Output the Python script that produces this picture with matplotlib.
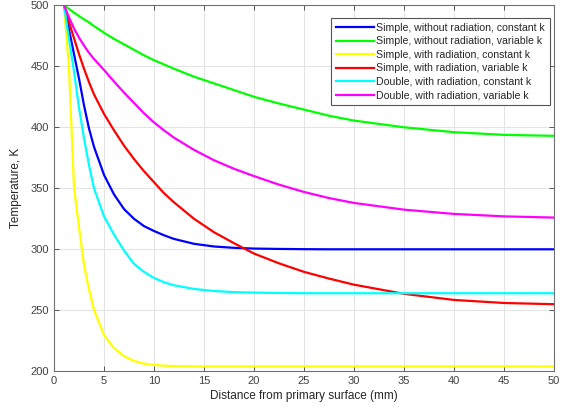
import numpy as np
import matplotlib.pyplot as plt

plt.rcParams['font.family'] = ['Liberation Sans', 'DejaVu Sans']
plt.rcParams['font.size'] = 8

# distance from primary surface (mm)
x = [1, 1.5, 2, 2.5, 3, 3.5, 4, 5, 6, 7, 8, 9, 10, 11, 12, 14, 16, 18, 20,
     22.5, 25, 27.5, 30, 35, 40, 45, 50]

# temperature profiles (K)
T_simple_norad_const = [500, 480, 460, 440, 418, 399, 384, 361, 345, 333, 325, 319, 315, 311.5,
                        308.5, 304.5, 302.3, 301.2, 300.6, 300.3, 300.1, 300, 300, 300, 300, 300, 300]
T_simple_norad_var = [500, 497, 494, 491.2, 488.5, 486, 483, 477.5, 472.5, 468, 463.5, 459, 455, 451.5,
                      448, 441.5, 436, 430.5, 425, 419.5, 414.5, 409.5, 405.5, 400, 396, 393.8, 393]
T_simple_rad_const = [500, 448, 351, 318, 287, 267, 250.5, 229.5, 219, 212.5, 208.5, 206.3, 205.2, 204.6,
                      204.3, 204, 204, 204, 204, 204, 204, 204, 204, 204, 204, 204, 204]
T_simple_rad_var = [500, 486, 473, 460, 448, 437, 427, 411, 397.5, 385, 374, 364, 355, 346,
                    338.5, 325, 314, 305, 296.5, 288.5, 281.5, 276, 271, 263.5, 258.5, 256, 255]
T_double_rad_const = [500, 472, 446, 416, 391, 369, 350, 327, 312, 299, 288, 281.5, 276.5, 273,
                      270.5, 267.5, 265.8, 264.9, 264.5, 264.2, 264, 264, 264, 264, 264, 264, 264]
T_double_rad_var = [500, 490, 481, 473.5, 467, 461, 456, 447, 437.5, 428.5, 420, 411.5, 404, 397.5,
                    391.5, 381.5, 373, 366, 360, 353, 347, 342, 338, 332.5, 329, 327, 326]

labels = ['Simple, without radiation, constant k',
          'Simple, without radiation, variable k',
          'Simple, with radiation, constant k',
          'Simple, with radiation, variable k',
          'Double, with radiation, constant k',
          'Double, with radiation, variable k']
series = [T_simple_norad_const, T_simple_norad_var, T_simple_rad_const,
          T_simple_rad_var, T_double_rad_const, T_double_rad_var]
colors = [(0, 0, 1), (0, 1, 0), (1, 1, 0), (1, 0, 0), (0, 1, 1), (1, 0, 1)]

fig = plt.figure(figsize=(5.63, 4.13), dpi=100)
ax = fig.add_axes([54/563, 1 - 371.3/413, 500/563, 366/413])

for T, c, lab in zip(series, colors, labels):
    ax.plot(x, T, color=c, lw=1.6, label=lab)

ax.set_xlim(0, 50)
ax.set_ylim(200, 500)
ax.set_xticks(np.arange(0, 51, 5))
ax.set_yticks(np.arange(200, 501, 50))
ax.grid(True, color='#e3e3e3', lw=0.7)
ax.set_axisbelow(True)
ax.tick_params(direction='in', length=3.5, width=0.6, colors='#404040',
               top=True, right=True, labelsize=8, labelcolor='#404040')
for s in ax.spines.values():
    s.set_color('#707070')
    s.set_linewidth(0.8)

ax.set_xlabel('Distance from primary surface (mm)', fontsize=8.5, color='#262626', labelpad=3)
ax.set_ylabel('Temperature, K', fontsize=8.5, color='#262626', labelpad=6)

leg = ax.legend(loc='upper right', bbox_to_anchor=(0.992, 0.965), borderaxespad=0,
                fontsize=7.6, handlelength=3.6, handletextpad=0.25, labelspacing=0.33,
                fancybox=False, framealpha=1, borderpad=0.45)
leg.get_frame().set_edgecolor('#555555')
leg.get_frame().set_linewidth(0.8)
for t in leg.get_texts():
    t.set_color('#262626')

fig.savefig('out.png', dpi=100)
